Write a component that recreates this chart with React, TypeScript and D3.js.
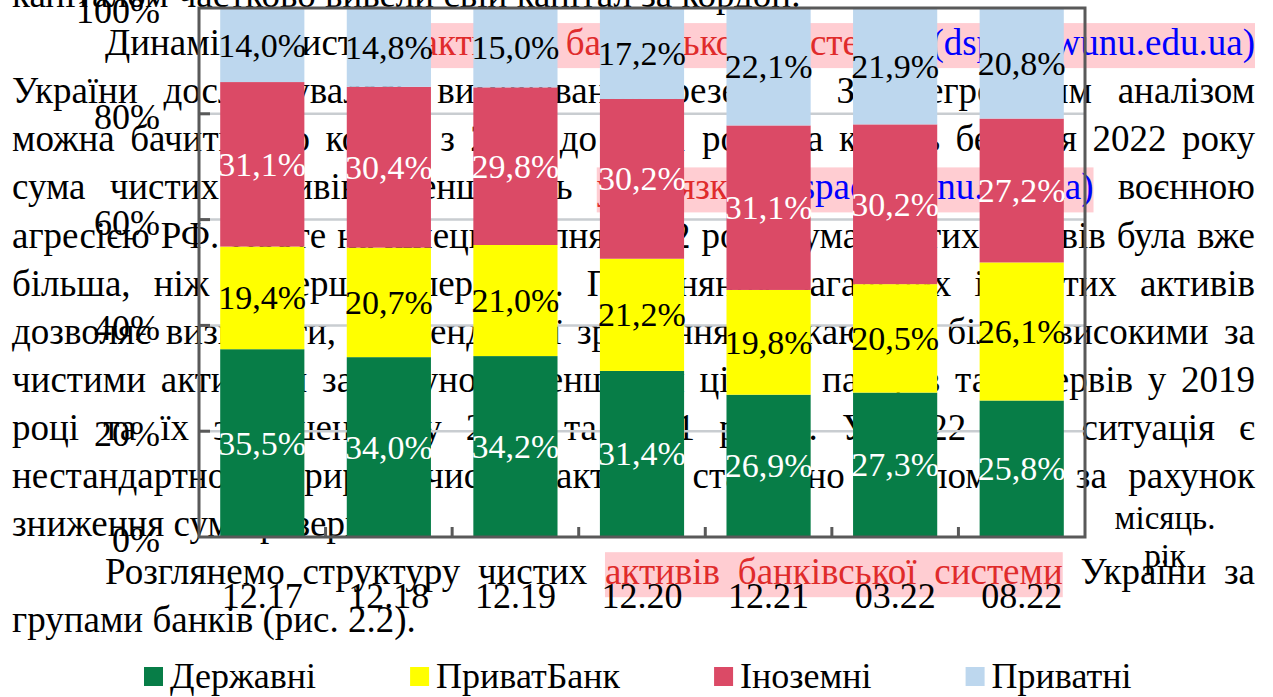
import React, { useEffect, useRef } from "react";
import * as d3 from "d3";

const periods = ["12.17", "12.18", "12.19", "12.20", "12.21", "03.22", "08.22"];
const stateBanks = [35.5, 34.0, 34.2, 31.4, 26.9, 27.3, 25.8];
const privatBank = [19.4, 20.7, 21.0, 21.2, 19.8, 20.5, 26.1];
const foreignBanks = [31.1, 30.4, 29.8, 30.2, 31.1, 30.2, 27.2];
const privateBanks = [14.0, 14.8, 15.0, 17.2, 22.1, 21.9, 20.8];
const seriesNames = ["Державні", "ПриватБанк", "Іноземні", "Приватні"];
const seriesColors = ["#077d47", "#ffff00", "#db4a66", "#bdd7ee"];
const labelColors = ["#ffffff", "#000000", "#ffffff", "#000000"];
const yTicks = [0, 20, 40, 60, 80, 100];
const axisTitle = ["місяць.", "рік"];

// page text that sits behind the chart; n = plain, r = red link, b = blue link
type Part = [string, string];
const pageLines: { parts: Part[]; indent?: boolean; justify?: boolean }[] = [
  { parts: [["капіталом частково вивели свій капітал за кордон.", "n"]] },
  {
    indent: true,
    justify: true,
    parts: [
      ["Динаміка чистих", "n"],
      ["активів банківської системи", "r"],
      ["(dspace.wunu.edu.ua)", "b"],
    ],
  },
  { justify: true, parts: [["України досліджувалась вимірюваних резервів. З інтегрованим аналізом", "n"]] },
  { justify: true, parts: [["можна бачити, що кошти з 2017 до 2021 року та кінець березня 2022 року", "n"]] },
  {
    justify: true,
    parts: [
      ["сума чистих активів зменшилась", "n"],
      ["у зв'язку", "r"],
      ["(dspace.wunu.edu.ua)", "b"],
      ["воєнною", "n"],
    ],
  },
  { justify: true, parts: [["агресією РФ. Проте на кінець серпня 2022 року сума чистих активів була вже", "n"]] },
  { justify: true, parts: [["більша, ніж у перших періодах. Порівняння загальних і чистих активів", "n"]] },
  { justify: true, parts: [["дозволяє визначити, що тенденції зрощення вважаються більш високими за", "n"]] },
  { justify: true, parts: [["чистими активами за рахунок зменшення цінних паперів та резервів у 2019", "n"]] },
  { justify: true, parts: [["році та їх зменшенню у 2020 та 2021 роках. У 2022 році ситуація є", "n"]] },
  { justify: true, parts: [["нестандартною, приріст чистих активів стабільно загалом, як за рахунок", "n"]] },
  { parts: [["зниження суми резервів.", "n"]] },
  {
    indent: true,
    justify: true,
    parts: [
      ["Розглянемо структуру чистих", "n"],
      ["активів банківської системи", "r"],
      ["України за", "n"],
    ],
  },
  { parts: [["групами банків (рис. 2.2).", "n"]] },
];

const font = "'Liberation Serif', 'Times New Roman', serif";
const textColor: Record<string, string> = { n: "#000000", r: "#e02b2b", b: "#0000ff" };

export default function App() {
  const svgRef = useRef<SVGSVGElement>(null);

  useEffect(() => {
    const svg = d3.select(svgRef.current);
    svg.selectAll("*").remove();

    // --- page text, justified word by word ---
    const page = svg.append("g").attr("font-family", font).attr("font-size", 37);
    const hlLayer = page.append("g");
    const wordLayer = page.append("g");
    pageLines.forEach((line, k) => {
      const baseline = 7 + k * 48.1;
      const words: { w: string; s: string; el?: any; width: number; x: number }[] = [];
      line.parts.forEach(([t, s]) =>
        t.split(" ").filter(Boolean).forEach((w) => words.push({ w, s, width: 0, x: 0 }))
      );
      words.forEach((d) => {
        d.el = wordLayer.append("text").attr("y", baseline).attr("fill", textColor[d.s]).text(d.w);
        d.width = d.el.node().getComputedTextLength();
      });
      const x0 = line.indent ? 105 : 12;
      const total = d3.sum(words, (d) => d.width);
      const gap = line.justify && words.length > 1 ? (1255 - x0 - total) / (words.length - 1) : 37 * 0.25;
      let cx = x0;
      words.forEach((d) => {
        d.x = cx;
        d.el.attr("x", cx);
        cx += d.width + gap;
      });
      let i = 0;
      while (i < words.length) {
        if (words[i].s !== "n") {
          let j = i;
          while (j + 1 < words.length && words[j + 1].s !== "n") j++;
          hlLayer
            .append("rect")
            .attr("x", words[i].x)
            .attr("y", baseline - 32)
            .attr("width", words[j].x + words[j].width - words[i].x)
            .attr("height", 45)
            .attr("fill", "#ffcdd2");
          i = j + 1;
        } else i++;
      }
    });

    // --- chart ---
    const x = d3.scaleBand().domain(periods).range([199, 1085]).paddingInner(0.335).paddingOuter(0.1675);
    const y = d3.scaleLinear().domain([0, 100]).range([537, 8]);
    const rows = periods.map((p, j) => ({
      period: p,
      s0: stateBanks[j],
      s1: privatBank[j],
      s2: foreignBanks[j],
      s3: privateBanks[j],
    }));
    const layers = d3.stack<any>().keys(["s0", "s1", "s2", "s3"])(rows);
    const chart = svg.append("g").attr("font-family", font);

    chart
      .selectAll(".grid")
      .data(yTicks.filter((v) => v > 0 && v < 100))
      .join("line")
      .attr("x1", 199)
      .attr("x2", 1085)
      .attr("y1", (d) => y(d))
      .attr("y2", (d) => y(d))
      .attr("stroke", "#c9cdd1")
      .attr("stroke-width", 2.5);

    layers.forEach((layer, i) => {
      chart
        .append("g")
        .selectAll("rect")
        .data(layer)
        .join("rect")
        .attr("x", (d: any) => x(d.data.period)!)
        .attr("y", (d) => y(d[1]))
        .attr("width", x.bandwidth())
        .attr("height", (d) => y(d[0]) - y(d[1]))
        .attr("fill", seriesColors[i]);
    });

    chart
      .append("rect")
      .attr("x", 199)
      .attr("y", y(100))
      .attr("width", 886)
      .attr("height", y(0) - y(100))
      .attr("fill", "none")
      .attr("stroke", "#595959")
      .attr("stroke-width", 3);

    chart
      .selectAll(".ytick")
      .data(yTicks.filter((v) => v > 0 && v < 100))
      .join("line")
      .attr("x1", 199)
      .attr("x2", 210)
      .attr("y1", (d) => y(d))
      .attr("y2", (d) => y(d))
      .attr("stroke", "#595959")
      .attr("stroke-width", 3);

    const half = (x.step() * x.paddingInner()) / 2;
    chart
      .selectAll(".xtick")
      .data(periods.slice(1))
      .join("line")
      .attr("x1", (d) => x(d)! - half)
      .attr("x2", (d) => x(d)! - half)
      .attr("y1", y(0))
      .attr("y2", y(0) - 10)
      .attr("stroke", "#595959")
      .attr("stroke-width", 3);

    const fmt = (v: number) => d3.format(".1f")(v).replace(".", ",") + "%";
    layers.forEach((layer, i) => {
      chart
        .append("g")
        .selectAll("text")
        .data(layer)
        .join("text")
        .attr("x", (d: any) => x(d.data.period)! + x.bandwidth() / 2)
        .attr("y", (d) => (y(d[0]) + y(d[1])) / 2)
        .attr("text-anchor", "middle")
        .attr("dominant-baseline", "central")
        .attr("font-size", 34)
        .attr("fill", labelColors[i])
        .text((d) => fmt(d[1] - d[0]));
    });

    chart
      .selectAll(".ylab")
      .data(yTicks)
      .join("text")
      .attr("x", 160)
      .attr("y", (d) => y(d) + 3)
      .attr("text-anchor", "end")
      .attr("dominant-baseline", "central")
      .attr("font-size", 36)
      .text((d) => `${d}%`);

    chart
      .selectAll(".xlab")
      .data(periods)
      .join("text")
      .attr("x", (d) => x(d)! + x.bandwidth() / 2)
      .attr("y", 608)
      .attr("text-anchor", "middle")
      .attr("font-size", 36)
      .text((d) => d);

    chart
      .selectAll(".title")
      .data(axisTitle)
      .join("text")
      .attr("x", 1165)
      .attr("y", (d, i) => 529 + i * 38)
      .attr("text-anchor", "middle")
      .attr("font-size", 33)
      .text((d) => d);

    // legend laid out from measured label widths
    const legend = chart.append("g").attr("font-size", 36);
    let lx = 144;
    seriesNames.forEach((name, i) => {
      legend.append("rect").attr("x", lx).attr("y", 667).attr("width", 19).attr("height", 19).attr("fill", seriesColors[i]);
      const t = legend.append("text").attr("x", lx + 26).attr("y", 688).text(name);
      lx += 26 + (t.node() as SVGTextElement).getComputedTextLength() + 94;
    });
  }, []);

  return (
    <div style={{ position: "absolute", left: 0, top: 0 }}>
      <svg ref={svgRef} width={1273} height={697} style={{ display: "block", background: "#ffffff" }} />
    </div>
  );
}
